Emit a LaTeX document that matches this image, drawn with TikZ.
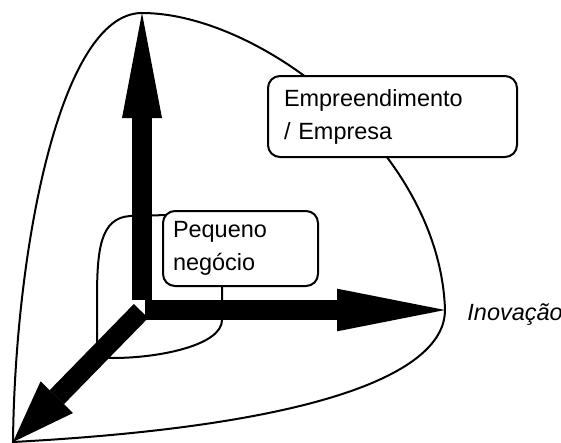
\documentclass[tikz,border=0pt]{standalone}
\usepackage{fontspec}
\setmainfont{Liberation Sans}
\usetikzlibrary{arrows.meta}
\tikzset{
  eixo/.style={line width=15pt},
  caixa/.style={draw,line width=1.5pt,rounded corners=9pt,fill=white,align=left,
    font=\fontsize{17.6}{24.75}\selectfont},
}
\begin{document}
\begin{tikzpicture}[x=0.75pt,y=-0.75pt,line width=1.5pt]
		\useasboundingbox (0,0) rectangle (561,443);
		% contorno da empresa
		\draw (142,13) .. controls (260,13) and (440,150) .. (445,310)
			.. controls (445,370) and (330,425) .. (13,442)
			.. controls (15,250) and (60,13) .. (142,13);
		% contorno do pequeno negocio
		\draw (168,215) -- (130,216) .. controls (100,218) and (97,250) .. (97,300) -- (97,340)
			.. controls (97,355) and (105,358) .. (113,358)
			.. controls (160,358) and (222,345) .. (222,320) -- (222,286);
		% eixos
		\coordinate (o1) at (142,300);
		\coordinate (o2) at (145,310);
		\coordinate (o3) at (141,311);
		\coordinate (cima) at (142,13);
		\coordinate (dir) at (445,310);
		\coordinate (baixo) at (13,442);
		\draw[eixo,-{Triangle[length=78.75pt,width=30pt,line width=0pt]}] (o1) -- (cima);
		\draw[eixo,-{Triangle[length=81pt,width=32pt,line width=0pt]}] (o2) -- (dir);
		\draw[eixo,-{Triangle[length=47pt,width=34pt,line width=0pt]}] (o3) -- (baixo);
		% caixas
		\node[caixa,inner xsep=12pt,text width=162.75pt,minimum height=60.75pt] (empresa) at (392.5,116.5) {Empreendimento\\/ Empresa};
		\node[caixa,inner xsep=7.5pt,text width=101.25pt,minimum height=56.25pt] (pequeno) at (240.5,248.5) {Pequeno\\negócio};
		\node[anchor=base west,font=\itshape\fontsize{17.6}{21}\selectfont] (inovacao) at (462,320) {Inovação};
\end{tikzpicture}
\end{document}
